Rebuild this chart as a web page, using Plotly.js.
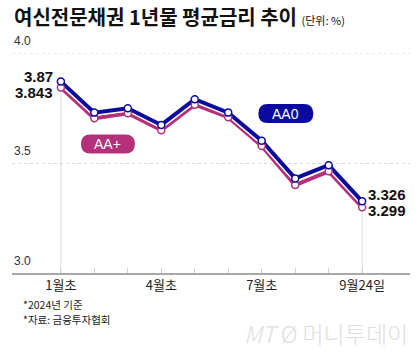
<!DOCTYPE html>
<html>
<head>
<meta charset="utf-8">
<script src="https://cdn.plot.ly/plotly-3.0.1.min.js"></script>
<style>
html,body{margin:0;padding:0;background:#fff;}
#chart{width:420px;height:354px;}
</style>
</head>
<body>
<div id="chart"></div>
<script>
// Data
const periods = ['1월초', '', '', '4월초', '', '', '7월초', '', '', '9월24일'];
const aa0 = [3.870, 3.729, 3.749, 3.673, 3.790, 3.729, 3.601, 3.430, 3.490, 3.326];
const aaPlus = [3.843, 3.703, 3.726, 3.649, 3.765, 3.708, 3.577, 3.400, 3.462, 3.299];
const yTicks = [3.0, 3.5, 4.0];
const yTickText = ['3.0', '3.5', '4.0'];
const seriesNames = ['AA0', 'AA+'];
const footnotes = ['*2024년 기준', '*자료: 금융투자협회'];

const BLUE = '#0a0a9e';
const PINK = '#b5307a';
const idx = periods.map((_, i) => i);
const last = idx.length - 1;
const numFont = "'Liberation Sans Narrow', 'Liberation Sans', Arial, sans-serif";
const krFont = "'Noto Sans CJK KR', 'Noto Sans', sans-serif";

function lineTrace(y, color, width) {
  return {x: idx, y: y, type: 'scatter', mode: 'lines',
    line: {color: color, width: width}, hoverinfo: 'skip', showlegend: false};
}
function markerTrace(y, color, name) {
  return {x: idx, y: y, type: 'scatter', mode: 'markers', name: name,
    marker: {color: '#fff', size: 7, line: {color: color, width: 1.5}}, showlegend: false};
}

const traces = [
  lineTrace(aaPlus, '#fff', 7),
  lineTrace(aaPlus, PINK, 4),
  lineTrace(aa0, '#fff', 7),
  lineTrace(aa0, BLUE, 4),
  markerTrace(aaPlus, PINK, seriesNames[1]),
  markerTrace(aa0, BLUE, seriesNames[0])
];

function pill(cx, cy, hw, hh, color) {
  const r = hh;
  const a = hw - r;
  const path = `M ${-a},${-hh} L ${a},${-hh} Q ${hw},${-hh} ${hw},0 Q ${hw},${hh} ${a},${hh} L ${-a},${hh} Q ${-hw},${hh} ${-hw},0 Q ${-hw},${-hh} ${-a},${-hh} Z`;
  return {type: 'path', xref: 'paper', yref: 'paper', xsizemode: 'pixel', ysizemode: 'pixel',
    xanchor: cx, yanchor: cy, path: path, fillcolor: color, line: {width: 0}, layer: 'above'};
}

const gridDash = '3px,3px';
const shapes = [
  {type: 'line', xref: 'paper', yref: 'y', x0: 0, x1: 1, y0: yTicks[2], y1: yTicks[2],
   line: {color: '#d8d8d8', width: 1, dash: gridDash}, layer: 'below'},
  {type: 'line', xref: 'x', yref: 'y', x0: 0, x1: 0, y0: yTicks[0], y1: aa0[0],
   line: {color: '#dcdcdc', width: 1}, layer: 'below'},
  {type: 'line', xref: 'x', yref: 'y', x0: last, x1: last, y0: yTicks[0], y1: aa0[last],
   line: {color: '#dcdcdc', width: 1}, layer: 'below'},
  pill(0.241, 0.586, 27, 9.5, PINK),
  pill(0.688, 0.725, 27.5, 9.5, BLUE)
];

const annotations = [];
// y tick labels above gridlines
yTicks.forEach((v, i) => {
  annotations.push({xref: 'paper', yref: 'y', x: 0, y: v, xanchor: 'left', yanchor: 'bottom',
    yshift: 3, text: yTickText[i], showarrow: false,
    font: {family: "'Liberation Sans', Arial, sans-serif", size: 12, color: '#333'}});
});
// value labels
const valFont = {family: numFont, size: 15, color: '#111', weight: 'bold'};
annotations.push({x: 0, y: aa0[0], text: '<b>' + aa0[0].toFixed(2) + '</b>', xanchor: 'right', yanchor: 'middle',
  xshift: -6, yshift: 5, showarrow: false, font: valFont});
annotations.push({x: 0, y: aaPlus[0], text: '<b>' + aaPlus[0].toFixed(3) + '</b>', xanchor: 'right', yanchor: 'middle',
  xshift: -6, yshift: -5, showarrow: false, font: valFont});
annotations.push({x: last, y: aa0[last], text: '<b>' + aa0[last].toFixed(3) + '</b>', xanchor: 'left', yanchor: 'middle',
  xshift: 4, yshift: 7, showarrow: false, font: valFont});
annotations.push({x: last, y: aaPlus[last], text: '<b>' + aaPlus[last].toFixed(3) + '</b>', xanchor: 'left', yanchor: 'middle',
  xshift: 4, yshift: -3, showarrow: false, font: valFont});
// badges text
annotations.push({xref: 'paper', yref: 'paper', x: 0.241, y: 0.586, text: seriesNames[1], showarrow: false,
  xanchor: 'center', yanchor: 'middle', font: {family: "'Liberation Sans', Arial, sans-serif", size: 14, color: '#fff'}});
annotations.push({xref: 'paper', yref: 'paper', x: 0.688, y: 0.725, text: seriesNames[0], showarrow: false,
  xanchor: 'center', yanchor: 'middle', font: {family: "'Liberation Sans', Arial, sans-serif", size: 14, color: '#fff'}});
// title
annotations.push({xref: 'paper', yref: 'paper', x: 0, y: 1, yshift: 20, xanchor: 'left', yanchor: 'bottom',
  text: '<b>여신전문채권 1년물 평균금리 추이</b> <span style="font-size:11px">(단위: %)</span>',
  showarrow: false, font: {family: krFont, size: 20, color: '#111'}});
// footnotes
footnotes.forEach((t, i) => {
  annotations.push({xref: 'paper', yref: 'paper', x: 0.024, y: 0, yshift: -31.5 - 14.5 * i, xanchor: 'left', yanchor: 'middle', align: 'left',
    borderpad: 0, text: t, showarrow: false, font: {family: krFont, size: 10.5, color: '#222'}});
});
// watermark
annotations.push({xref: 'paper', yref: 'paper', x: 1, y: 0, yshift: -41, xanchor: 'right', yanchor: 'top',
  text: '<i>MT</i> Ø 머니투데이', showarrow: false,
  font: {family: krFont, size: 23, color: '#dedede', weight: 300}});

const layout = {
  width: 420, height: 354,
  margin: {l: 12, r: 10, t: 53, b: 81},
  paper_bgcolor: '#fff', plot_bgcolor: '#fff',
  showlegend: false,
  xaxis: {
    range: [-1.46, 10.43], tickvals: idx, ticktext: periods,
    showgrid: false, zeroline: false, showline: true, linecolor: '#a8a8a8', linewidth: 1.5,
    ticks: 'inside', ticklen: 5, tickcolor: '#d0d0d0', tickwidth: 1,
    tickfont: {family: krFont, size: 13, color: '#222'}, fixedrange: true
  },
  yaxis: {
    range: [3.0, 4.0], tickvals: yTicks.slice(1, 2), showticklabels: false,
    showgrid: true, gridcolor: '#d8d8d8', griddash: gridDash, gridwidth: 1,
    zeroline: false, showline: false, fixedrange: true
  },
  shapes: shapes,
  annotations: annotations
};

Plotly.newPlot('chart', traces, layout, {displayModeBar: false, staticPlot: true});
</script>
</body>
</html>
